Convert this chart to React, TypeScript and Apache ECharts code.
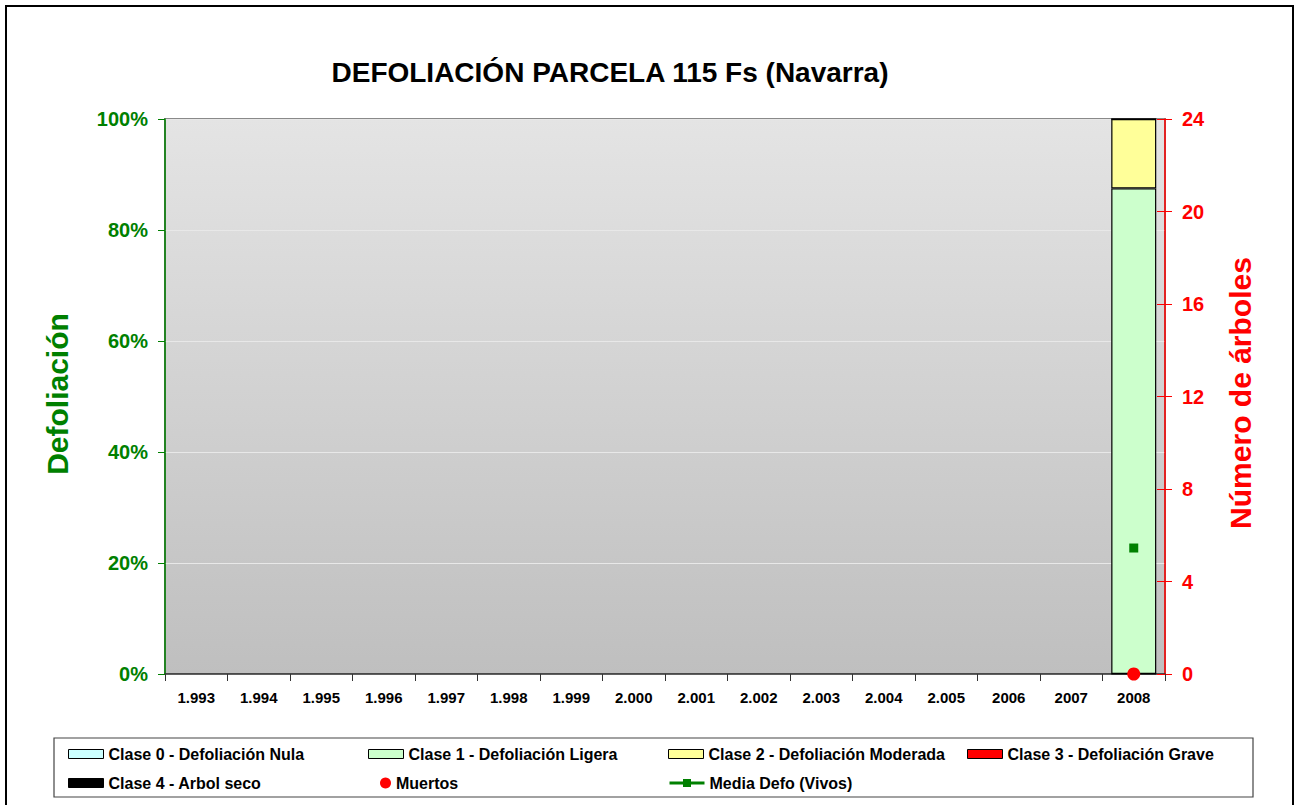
import React, { useEffect, useRef } from "react";
import * as echarts from "echarts";

const years = ["1.993", "1.994", "1.995", "1.996", "1.997", "1.998", "1.999", "2.000", "2.001", "2.002", "2.003", "2.004", "2.005", "2006", "2007", "2008"];
const clase0 = [null, null, null, null, null, null, null, null, null, null, null, null, null, null, null, 0];
const clase1 = [null, null, null, null, null, null, null, null, null, null, null, null, null, null, null, 87.5];
const clase2 = [null, null, null, null, null, null, null, null, null, null, null, null, null, null, null, 12.5];
const clase3 = [null, null, null, null, null, null, null, null, null, null, null, null, null, null, null, 0];
const clase4 = [null, null, null, null, null, null, null, null, null, null, null, null, null, null, null, 0];
const muertos = [null, null, null, null, null, null, null, null, null, null, null, null, null, null, null, 0];
const mediaDefo = [null, null, null, null, null, null, null, null, null, null, null, null, null, null, null, 22.7];

const FONT = "'Liberation Sans', Arial, Helvetica, sans-serif";
const GREEN = "#008000";
const RED = "#ff0000";

const barNames = [
  "Clase 0 - Defoliación Nula",
  "Clase 1 - Defoliación Ligera",
  "Clase 2 - Defoliación Moderada",
  "Clase 3 - Defoliación Grave",
  "Clase 4 - Arbol seco",
];
const barColors = ["#ccffff", "#ccffcc", "#ffff99", "#ff0000", "#000000"];
const barData = [clase0, clase1, clase2, clase3, clase4];

export default function App() {
  const ref = useRef<HTMLDivElement>(null);
  useEffect(() => {
    if (!ref.current) return;
    const chart = echarts.init(ref.current, null, { renderer: "svg" });
    const legendText = { fontFamily: FONT, fontWeight: "bold", fontSize: 16, color: "#000", lineHeight: 18 };
    const mkLegend = (name: string, left: number, top: number, extra: any = {}) => ({
      data: [name],
      left,
      top,
      padding: 0,
      itemWidth: 35,
      itemHeight: 9,
      selectedMode: false,
      textStyle: legendText,
      ...extra,
    });
    const barLegend = { icon: "rect", itemStyle: { borderWidth: 1, borderColor: "#000" } };
    const option: any = {
      animation: false,
      backgroundColor: "#ffffff",
      grid: {
        left: 165,
        right: 133,
        top: 119,
        bottom: 131,
        show: true,
        borderColor: "#8a8a8a",
        borderWidth: 2,
        backgroundColor: {
          type: "linear",
          x: 0,
          y: 0,
          x2: 0,
          y2: 1,
          colorStops: [
            { offset: 0, color: "#e4e4e4" },
            { offset: 1, color: "#bfbfbf" },
          ],
        },
      },
      legend: [
        mkLegend(barNames[0], 68, 745, barLegend),
        mkLegend(barNames[1], 368, 745, barLegend),
        mkLegend(barNames[2], 668, 745, barLegend),
        mkLegend(barNames[3], 967, 745, barLegend),
        mkLegend(barNames[4], 68, 774, barLegend),
        mkLegend("Muertos", 380, 774, { itemWidth: 11, itemHeight: 11 }),
        mkLegend("Media Defo (Vivos)", 668, 774, { itemHeight: 10, lineStyle: { width: 3 } }),
      ],
      xAxis: {
        type: "category",
        data: years,
        boundaryGap: true,
        axisLine: { show: true, lineStyle: { color: "#333333", width: 1.5 } },
        axisTick: { show: true, length: 7, lineStyle: { color: "#333333", width: 1 } },
        axisLabel: { fontFamily: FONT, fontWeight: "bold", fontSize: 15, color: "#000", margin: 16, interval: 0 },
        splitLine: { show: false },
      },
      yAxis: [
        {
          type: "value",
          min: 0,
          max: 100,
          interval: 20,
          position: "left",
          axisLine: { show: true, lineStyle: { color: GREEN, width: 1.5 } },
          axisTick: { show: true, length: 7, lineStyle: { color: GREEN } },
          axisLabel: { formatter: "{value}%", fontFamily: FONT, fontWeight: "bold", fontSize: 20, color: GREEN, margin: 17 },
          splitLine: { show: true, lineStyle: { color: "#e8e8e8", width: 1 } },
        },
        {
          type: "value",
          min: 0,
          max: 24,
          interval: 4,
          position: "right",
          axisLine: { show: true, lineStyle: { color: RED, width: 1.5 } },
          axisTick: { show: true, length: 7, lineStyle: { color: RED } },
          axisLabel: { fontFamily: FONT, fontWeight: "bold", fontSize: 20, color: RED, margin: 17 },
          splitLine: { show: false },
        },
        {
          type: "value",
          min: 0,
          max: 24,
          interval: 4,
          position: "right",
          axisLine: { show: false },
          axisTick: { show: true, inside: true, length: 8, lineStyle: { color: RED } },
          axisLabel: { show: false },
          splitLine: { show: false },
        },
      ],
      series: [
        ...barNames.map((name, i) => ({
          name,
          type: "bar",
          stack: "defo",
          yAxisIndex: 0,
          barWidth: 45,
          data: barData[i],
          itemStyle: { color: barColors[i], borderColor: "#000000", borderWidth: 1.2 },
        })),
        {
          name: "Muertos",
          type: "scatter",
          yAxisIndex: 1,
          data: muertos,
          symbol: "circle",
          symbolSize: 13,
          clip: false,
          itemStyle: { color: RED, opacity: 1 },
          z: 5,
        },
        {
          name: "Media Defo (Vivos)",
          type: "line",
          yAxisIndex: 0,
          data: mediaDefo,
          symbol: "rect",
          symbolSize: 9,
          showSymbol: true,
          showAllSymbol: true,
          itemStyle: { color: GREEN },
          lineStyle: { color: GREEN, width: 3 },
          z: 6,
        },
      ],
      graphic: [
        {
          type: "rect",
          shape: { x: 6, y: 6, width: 1287, height: 820 },
          style: { fill: "none", stroke: "#000", lineWidth: 2 },
          silent: true,
        },
        {
          type: "rect",
          shape: { x: 54, y: 738, width: 1199, height: 59 },
          style: { fill: "none", stroke: "#444", lineWidth: 1.2 },
          silent: true,
        },
        {
          type: "text",
          x: 610,
          y: 72,
          style: {
            text: "DEFOLIACIÓN PARCELA 115 Fs (Navarra)",
            font: `bold 28px ${FONT}`,
            fill: "#000",
            align: "center",
            verticalAlign: "middle",
          },
        },
        {
          type: "text",
          x: 57,
          y: 394,
          rotation: Math.PI / 2,
          style: {
            text: "Defoliación",
            font: `bold 30px ${FONT}`,
            fill: GREEN,
            align: "center",
            verticalAlign: "middle",
          },
        },
        {
          type: "text",
          x: 1240,
          y: 393,
          rotation: Math.PI / 2,
          style: {
            text: "Número de árboles",
            font: `bold 30px ${FONT}`,
            fill: RED,
            align: "center",
            verticalAlign: "middle",
          },
        },
      ],
    };
    chart.setOption(option);
    return () => chart.dispose();
  }, []);
  return <div ref={ref} style={{ position: "fixed", left: 0, top: 0, width: 1298, height: 805 }} />;
}
